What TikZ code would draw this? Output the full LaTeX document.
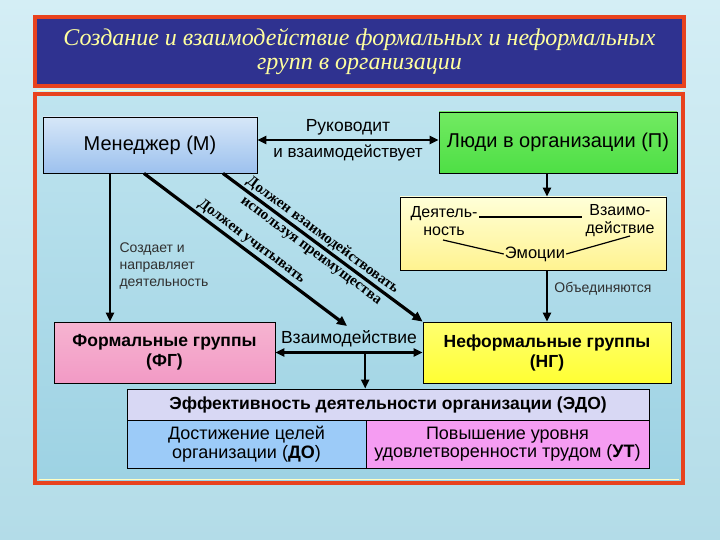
\documentclass[tikz,border=0pt]{standalone}
\usepackage{fontspec}
\setmainfont{Liberation Sans}
\newfontfamily\wordartfont{Liberation Serif}
\usetikzlibrary{arrows.meta}
\definecolor{framered}{HTML}{E8421E}
\definecolor{titleblue}{HTML}{2F3290}
\definecolor{titletext}{HTML}{FFFF9E}
\definecolor{skytop}{HTML}{D4EEF5}
\definecolor{skybottom}{HTML}{B3DCE8}
\definecolor{innertop}{HTML}{BFE4EF}
\definecolor{innerbottom}{HTML}{9DD2E3}
\definecolor{labelgray}{HTML}{303030}
\definecolor{mgrtop}{HTML}{D6E7F8}
\definecolor{mgrmid}{HTML}{F2F8FE}
\definecolor{mgrbottom}{HTML}{9DC1EE}
\definecolor{peopletop}{HTML}{72EA62}
\definecolor{peoplemid}{HTML}{D4FCC4}
\definecolor{peoplebottom}{HTML}{4EDF45}
\definecolor{acttop}{HTML}{FFFFD8}
\definecolor{actbottom}{HTML}{FFF390}
\definecolor{fgtop}{HTML}{F6B4D1}
\definecolor{fgmid}{HTML}{FFF0F7}
\definecolor{fgbottom}{HTML}{F29AC5}
\definecolor{ngtop}{HTML}{FFFF70}
\definecolor{ngmid}{HTML}{FFFFCC}
\definecolor{ngbottom}{HTML}{FFFF33}
\definecolor{edofill}{HTML}{D8D8F4}
\definecolor{dofill}{HTML}{9CCBF8}
\definecolor{utfill}{HTML}{F59CF2}
\tikzset{
  box/.style={draw=black,line width=0.8pt,rectangle,inner sep=2pt,align=center},
  arr/.style={line width=2.2pt,-{Triangle[length=9pt,width=8pt]}},
  dblarr/.style={line width=2.2pt,{Triangle[length=9pt,width=8pt]}-{Triangle[length=9pt,width=8pt]}},
  diag/.style={line width=3.2pt,-{Triangle[length=10pt,width=9pt]}},
  wordart/.style={font=\wordartfont\bfseries\fontsize{15}{19}\selectfont,sloped,align=center,inner sep=1pt},
  small/.style={font=\fontsize{14}{17}\selectfont,text=labelgray},
}
\begin{document}
\begin{tikzpicture}[x=1pt,y=-1pt]
\useasboundingbox (0,0) rectangle (720,540);
\fill[top color=skytop,bottom color=skybottom] (0,0) rectangle (720,540);
\fill[top color=innertop,bottom color=innerbottom] (35,94) rectangle (683,483);
\draw[framered,line width=4pt] (35,94) rectangle (683,483);
\draw[titletext!60!white,line width=0.8pt] (37,90) -- (683,90);
\draw[titletext!60!white,line width=0.8pt] (39,479) -- (679,479);
\node[draw=framered,line width=4pt,fill=titleblue,minimum width=649pt,minimum height=69pt,align=center,text=titletext,font=\wordartfont\itshape\fontsize{24}{24}\selectfont] (title) at (359.5,51.5) {Создание и взаимодействие формальных и неформальных\\групп в организации};
\node[box,top color=mgrtop,middle color=mgrmid,bottom color=mgrbottom,minimum width=214pt,minimum height=56pt,font=\fontsize{20}{22}\selectfont] (manager) at (150,145) {Менеджер (М)};
\node[box,top color=peopletop,middle color=peoplemid,bottom color=peoplebottom,minimum width=238pt,minimum height=61pt,font=\fontsize{20}{22}\selectfont] (people) at (558,142.5) {Люди в организации (П)};
\node[box,top color=acttop,bottom color=actbottom,minimum width=266pt,minimum height=73pt] (activity) at (533,233.5) {};
\node[box,top color=fgtop,middle color=fgmid,bottom color=fgbottom,minimum width=221pt,minimum height=61pt,font=\bfseries\fontsize{17.5}{20}\selectfont] (formal) at (164.5,352.5) {Формальные группы\\(ФГ)};
\node[box,top color=ngtop,middle color=ngmid,bottom color=ngbottom,minimum width=248pt,minimum height=61pt,font=\bfseries\fontsize{17.5}{20}\selectfont] (informal) at (547,352.5) {Неформальные группы\\(НГ)};
\node[box,fill=edofill,minimum width=522pt,minimum height=31pt,font=\bfseries\fontsize{17.5}{18}\selectfont] (edo) at (388,404.5) {Эффективность деятельности организации (ЭДО)};
\node[box,fill=dofill,minimum width=239pt,minimum height=48pt,font=\fontsize{18}{18.5}\selectfont] (goals) at (246.5,444) {Достижение целей\\организации (\textbf{ДО})};
\node[box,fill=utfill,minimum width=283pt,minimum height=48pt,font=\fontsize{18}{18.5}\selectfont] (satisfaction) at (507.5,444) {Повышение уровня\\удовлетворенности трудом (\textbf{УТ})};
\node[font=\fontsize{16}{18}\selectfont,align=center] (deyat) at (444,221) {Деятель-\\ность};
\node[font=\fontsize{16}{18}\selectfont,align=center] (vzaimo) at (620,221) {Взаимо-\\действие};
\node[font=\fontsize{16.5}{18}\selectfont,inner sep=1pt] (emotions) at (535,254) {Эмоции};
\draw[line width=1.6pt] (479,217) -- (582,217);
\draw[line width=1.2pt] (443,240) -- (emotions.west);
\draw[line width=1.2pt] (emotions.east) -- (630,236);
\draw[dblarr] ([yshift=5pt]manager.east) -- node[above=0pt,font=\fontsize{17.5}{18}\selectfont]{Руководит} node[below=0pt,font=\fontsize{17}{18}\selectfont]{и взаимодействует} ([yshift=5pt]manager.east -| people.west);
\draw[arr] (people.south -| informal.north) -- (activity.north -| informal.north);
\draw[arr] (activity.south -| informal.north) -- node[pos=0.35,right=3pt,small]{Объединяются} (informal.north);
\draw[arr] ([xshift=-40pt]manager.south) -- ([xshift=-40pt]manager.south |- formal.north);
\node[small,align=left,anchor=west] (creates) at (116,266) {Создает и\\направляет\\деятельность};
\coordinate (meet) at (347,326);
\draw[diag] ([xshift=-6pt]manager.south) -- node[wordart,pos=0.5,above=1pt]{Должен учитывать} (meet);
\draw[diag] ([xshift=73pt]manager.south) -- node[wordart,pos=0.47]{Должен взаимодействовать\\используя преимущества} (informal.north west);
\draw[dblarr] (formal.east) -- node[above=1pt,font=\fontsize{17.5}{18}\selectfont]{Взаимодействие} coordinate[pos=0.61] (split) (informal.west);
\draw[arr] (split) -- (split |- edo.north);
\end{tikzpicture}
\end{document}
